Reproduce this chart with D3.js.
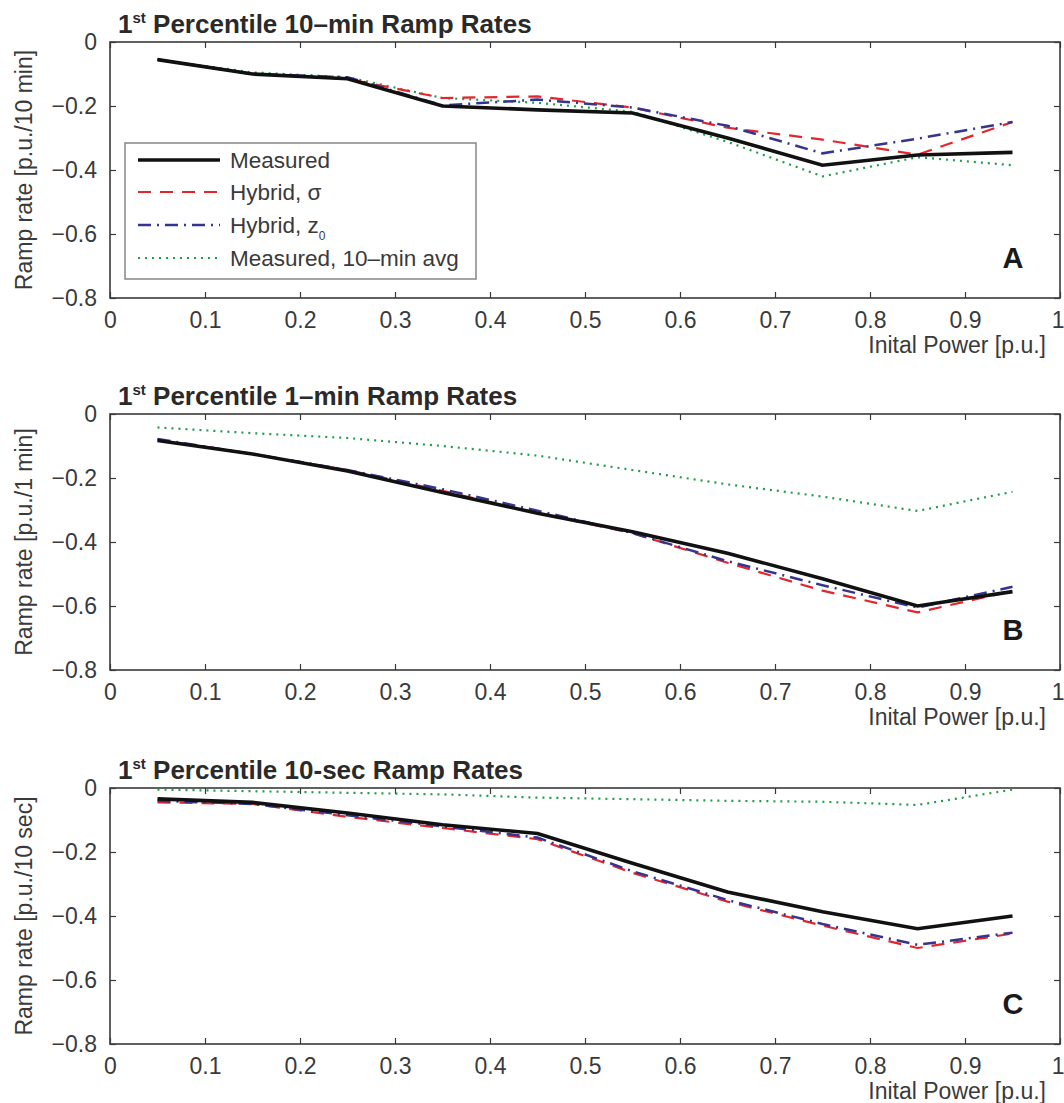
<!DOCTYPE html>
<html>
<head>
<meta charset="utf-8">
<script src="https://cdn.jsdelivr.net/npm/d3@7"></script>
<style>
  html, body { margin: 0; padding: 0; background: #fff; }
  svg { display: block; font-family: "Liberation Sans", Arial, Helvetica, sans-serif; }
</style>
</head>
<body>
<svg id="chart" width="1064" height="1103"></svg>
<script>
// Initial power bin centres (p.u.)
const initialPower = [0.05, 0.15, 0.25, 0.35, 0.45, 0.55, 0.65, 0.75, 0.85, 0.95];

// Axis ticks
const xTicks = [0, 0.1, 0.2, 0.3, 0.4, 0.5, 0.6, 0.7, 0.8, 0.9, 1];
const xTickLabels = ["0", "0.1", "0.2", "0.3", "0.4", "0.5", "0.6", "0.7", "0.8", "0.9", "1"];
const yTicks = [0, -0.2, -0.4, -0.6, -0.8];
const yTickLabels = ["0", "\u22120.2", "\u22120.4", "\u22120.6", "\u22120.8"];

// Series names
const seriesNames = ["Measured", "Hybrid, \u03c3", "Hybrid, z0", "Measured, 10\u2013min avg"];

// Panel A: 1st percentile 10-min ramp rates
const measured10min = [-0.055, -0.100, -0.115, -0.200, -0.212, -0.222, -0.300, -0.385, -0.353, -0.345];
const sigma10min    = [-0.055, -0.100, -0.115, -0.175, -0.170, -0.205, -0.268, -0.305, -0.352, -0.250];
const z0_10min      = [-0.055, -0.100, -0.110, -0.198, -0.180, -0.205, -0.262, -0.348, -0.302, -0.250];
const avg10min      = [-0.055, -0.095, -0.110, -0.175, -0.190, -0.218, -0.312, -0.420, -0.360, -0.385];

// Panel B: 1st percentile 1-min ramp rates
const measured1min = [-0.083, -0.125, -0.178, -0.245, -0.310, -0.368, -0.435, -0.515, -0.600, -0.555];
const sigma1min    = [-0.080, -0.125, -0.175, -0.240, -0.310, -0.372, -0.465, -0.552, -0.620, -0.553];
const z0_1min      = [-0.078, -0.125, -0.175, -0.235, -0.302, -0.372, -0.460, -0.535, -0.605, -0.540];
const avg1min      = [-0.042, -0.060, -0.075, -0.100, -0.130, -0.175, -0.220, -0.258, -0.303, -0.243];

// Panel C: 1st percentile 10-sec ramp rates
const measured10sec = [-0.034, -0.045, -0.078, -0.115, -0.142, -0.235, -0.325, -0.387, -0.440, -0.400];
const sigma10sec    = [-0.045, -0.050, -0.090, -0.125, -0.160, -0.265, -0.355, -0.430, -0.500, -0.455];
const z0_10sec      = [-0.040, -0.050, -0.085, -0.120, -0.155, -0.260, -0.350, -0.425, -0.490, -0.452];
const avg10sec      = [-0.005, -0.010, -0.015, -0.020, -0.030, -0.035, -0.040, -0.043, -0.053, -0.005];

const panels = [
  { title: "10\u2013min", yLabel: "Ramp rate [p.u./10 min]", tag: "A", top: 42,  legend: true,
    series: [measured10min, sigma10min, z0_10min, avg10min] },
  { title: "1\u2013min",  yLabel: "Ramp rate [p.u./1 min]",  tag: "B", top: 414, legend: false,
    series: [measured1min, sigma1min, z0_1min, avg1min] },
  { title: "10-sec",       yLabel: "Ramp rate [p.u./10 sec]", tag: "C", top: 788, legend: false,
    series: [measured10sec, sigma10sec, z0_10sec, avg10sec] }
];

// Line styles for each series
const styles = [
  { color: "#111111", width: 3.6, dash: null },
  { color: "#e3262e", width: 2.2, dash: "13,9" },
  { color: "#35358f", width: 2.5, dash: "13,6,2,6" },
  { color: "#1f9e45", width: 2.2, dash: "2,5" }
];

const left = 110, right = 1060, plotH = 256;
const axisColor = "#3a3a3a", textColor = "#3a3a3a";

const svg = d3.select("#chart");
const x = d3.scaleLinear().domain([0, 1]).range([left, right]);

panels.forEach(p => {
  const y = d3.scaleLinear().domain([-0.8, 0]).range([p.top + plotH, p.top]);
  const g = svg.append("g");

  // Frame
  g.append("rect")
    .attr("x", left).attr("y", p.top)
    .attr("width", right - left).attr("height", plotH)
    .attr("fill", "none").attr("stroke", axisColor).attr("stroke-width", 1.6);

  // Bottom axis with labels, ticks pointing inward
  const xb = g.append("g").attr("transform", `translate(0,${p.top + plotH})`)
    .call(d3.axisBottom(x).tickValues(xTicks).tickSize(-6).tickPadding(14)
      .tickFormat((d, i) => xTickLabels[i]));
  // Top axis, ticks only
  const xt = g.append("g").attr("transform", `translate(0,${p.top})`)
    .call(d3.axisTop(x).tickValues(xTicks).tickSize(-6).tickFormat(""));
  // Left axis with labels
  const yl = g.append("g").attr("transform", `translate(${left},0)`)
    .call(d3.axisLeft(y).tickValues(yTicks).tickSize(-6).tickPadding(13)
      .tickFormat((d, i) => yTickLabels[i]));
  // Right axis, ticks only
  const yr = g.append("g").attr("transform", `translate(${right},0)`)
    .call(d3.axisRight(y).tickValues(yTicks).tickSize(-6).tickFormat(""));

  [xb, xt, yl, yr].forEach(a => {
    a.select(".domain").remove();
    a.selectAll(".tick line").attr("stroke", axisColor).attr("stroke-width", 1.2);
    a.selectAll(".tick text")
      .attr("fill", textColor)
      .style("font-size", "23px")
      .style("font-family", "'Liberation Sans', Arial, sans-serif");
  });
  // keep the last x label inside the page
  xb.selectAll(".tick text").filter(d => d === 1).attr("text-anchor", "end").attr("x", 4);

  // Series lines
  const line = d3.line().x((d, i) => x(initialPower[i])).y(d => y(d));
  [3, 1, 2, 0].forEach(k => {
    const s = styles[k];
    g.append("path")
      .datum(p.series[k])
      .attr("d", line)
      .attr("fill", "none")
      .attr("stroke", s.color)
      .attr("stroke-width", s.width)
      .attr("stroke-dasharray", s.dash)
      .attr("stroke-linejoin", "miter");
  });

  // Title
  const t = g.append("text")
    .attr("x", 118).attr("y", p.top - 9)
    .attr("fill", "#2a2a2a")
    .style("font-size", "26px").style("font-weight", "bold");
  t.append("tspan").text("1");
  t.append("tspan").text("st").attr("dy", -10).style("font-size", "15px");
  t.append("tspan").text(` Percentile ${p.title} Ramp Rates`).attr("dy", 10);

  // Y-axis label
  g.append("text")
    .attr("transform", `translate(32,${p.top + plotH / 2}) rotate(-90)`)
    .attr("text-anchor", "middle")
    .attr("fill", textColor)
    .style("font-size", "23px")
    .text(p.yLabel);

  // X-axis label
  g.append("text")
    .attr("x", 1046).attr("y", p.top + plotH + 55)
    .attr("text-anchor", "end")
    .attr("fill", textColor)
    .style("font-size", "23px")
    .text("Inital Power [p.u.]");

  // Panel tag
  g.append("text")
    .attr("x", 1013).attr("y", p.top + plotH - 30)
    .attr("text-anchor", "middle")
    .attr("fill", "#1a1a1a")
    .style("font-size", "29px").style("font-weight", "bold")
    .text(p.tag);

  // Legend
  if (p.legend) {
    const lg = g.append("g");
    lg.append("rect")
      .attr("x", 125).attr("y", 143).attr("width", 351).attr("height", 136)
      .attr("fill", "#fff").attr("stroke", "#8a8f90").attr("stroke-width", 1.6);
    const rowsY = [160, 192, 225, 258];
    seriesNames.forEach((name, k) => {
      const s = styles[k];
      lg.append("line")
        .attr("x1", 138).attr("x2", 220)
        .attr("y1", rowsY[k]).attr("y2", rowsY[k])
        .attr("stroke", s.color).attr("stroke-width", s.width)
        .attr("stroke-dasharray", s.dash);
      const lt = lg.append("text")
        .attr("x", 230).attr("y", rowsY[k] + 8)
        .attr("fill", textColor)
        .style("font-size", "22.5px");
      if (k === 2) {
        lt.append("tspan").text("Hybrid, z");
        lt.append("tspan").text("0").attr("dy", 7).style("font-size", "12px");
      } else {
        lt.text(name);
      }
    });
  }
});
</script>
</body>
</html>
